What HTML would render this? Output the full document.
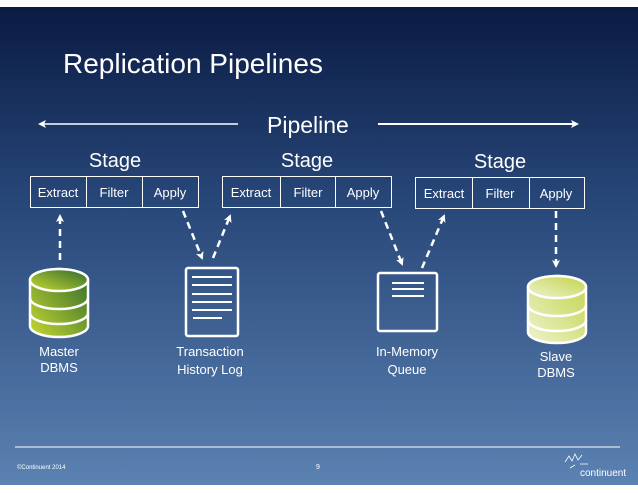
<!DOCTYPE html>
<html><head><meta charset="utf-8"><style>
html,body{margin:0;padding:0;background:#fff}
svg{display:block}
text{font-family:"Liberation Sans",sans-serif;fill:#fff}
</style></head><body>
<svg width="638" height="493" viewBox="0 0 638 493" xmlns="http://www.w3.org/2000/svg">
<defs>
<linearGradient id="bg" x1="0" y1="0" x2="0" y2="1">
<stop offset="0" stop-color="#0a1b43"/>
<stop offset="0.4" stop-color="#274678"/>
<stop offset="1" stop-color="#5b82b2"/>
</linearGradient>
<linearGradient id="g1" x1="0" y1="1" x2="1" y2="0">
<stop offset="0" stop-color="#c8d832"/>
<stop offset="1" stop-color="#2e6a2c"/>
</linearGradient>
<linearGradient id="g2" x1="0" y1="1" x2="1" y2="0">
<stop offset="0" stop-color="#eef3cf"/>
<stop offset="1" stop-color="#c3d34a"/>
</linearGradient>
<marker id="ah" markerWidth="8" markerHeight="8" refX="6" refY="4" orient="auto" markerUnits="userSpaceOnUse">
<path d="M0,0 L8,4 L0,8 L2,4 z" fill="#fff"/>
</marker>
</defs>
<rect x="0" y="7" width="638" height="478" fill="url(#bg)"/>
<text x="63" y="73" font-size="28">Replication Pipelines</text>
<text x="267" y="133" font-size="23">Pipeline</text>
<line x1="238" y1="124" x2="40" y2="124" stroke="#fff" stroke-width="1.5" marker-end="url(#ah)"/>
<line x1="378" y1="124" x2="577" y2="124" stroke="#fff" stroke-width="2" marker-end="url(#ah)"/>
<g font-size="20" text-anchor="middle">
<text x="115" y="167">Stage</text><text x="307" y="167">Stage</text><text x="500" y="168">Stage</text>
</g>
<g fill="none" stroke="#fff" stroke-width="1">
<rect x="30.5" y="176.5" width="168" height="31"/><line x1="86.5" y1="176" x2="86.5" y2="208"/><line x1="142.5" y1="176" x2="142.5" y2="208"/>
<rect x="222.5" y="176.5" width="169" height="31"/><line x1="280.5" y1="176" x2="280.5" y2="208"/><line x1="335.5" y1="176" x2="335.5" y2="208"/>
<rect x="415.5" y="177.5" width="169" height="31"/><line x1="472.5" y1="177" x2="472.5" y2="209"/><line x1="529.5" y1="177" x2="529.5" y2="209"/>
</g>
<g font-size="13" text-anchor="middle">
<text x="58" y="197">Extract</text><text x="114" y="197">Filter</text><text x="170" y="197">Apply</text>
<text x="251" y="197">Extract</text><text x="308" y="197">Filter</text><text x="363" y="197">Apply</text>
<text x="444" y="198">Extract</text><text x="500" y="198">Filter</text><text x="556" y="198">Apply</text>
</g>
<g stroke="#fff" stroke-width="2.5" stroke-dasharray="7,5" fill="none">
<line x1="60" y1="260" x2="60" y2="216" marker-end="url(#ah)"/>
<line x1="183" y1="211" x2="202" y2="258" marker-end="url(#ah)"/>
<line x1="213" y1="258" x2="230" y2="216" marker-end="url(#ah)"/>
<line x1="381" y1="211" x2="402" y2="264" marker-end="url(#ah)"/>
<line x1="422" y1="268" x2="444" y2="216" marker-end="url(#ah)"/>
<line x1="556" y1="211" x2="556" y2="266" marker-end="url(#ah)"/>
</g>
<!-- master db -->
<g stroke="#fff" stroke-width="2.5">
<path d="M30,280 L30,326 A29,11 0 0 0 88,326 L88,280 A29,11 0 0 0 30,280 z" fill="url(#g1)"/>
<ellipse cx="59" cy="280" rx="29" ry="11" fill="url(#g1)"/>
<path d="M30,298 A29,11 0 0 0 88,298 M30,313 A29,11 0 0 0 88,313" fill="none"/>
</g>
<g stroke="#fff" stroke-width="2.5">
<path d="M528,287 L528,332 A29,11 0 0 0 586,332 L586,287 A29,11 0 0 0 528,287 z" fill="url(#g2)"/>
<ellipse cx="557" cy="287" rx="29" ry="11" fill="url(#g2)"/>
<path d="M528,305 A29,11 0 0 0 586,305 M528,320 A29,11 0 0 0 586,320" fill="none"/>
</g>
<!-- log -->
<rect x="186" y="268" width="52" height="68" rx="2" fill="none" stroke="#fff" stroke-width="2.5"/>
<g stroke="#fff" stroke-width="2">
<line x1="192" y1="277" x2="232" y2="277"/><line x1="192" y1="285" x2="232" y2="285"/><line x1="192" y1="294" x2="232" y2="294"/><line x1="192" y1="302" x2="232" y2="302"/><line x1="192" y1="310" x2="232" y2="310"/><line x1="193" y1="318" x2="222" y2="318"/>
</g>
<rect x="378" y="273" width="59" height="58" rx="2" fill="none" stroke="#fff" stroke-width="2.5"/>
<g stroke="#fff" stroke-width="2">
<line x1="392" y1="283" x2="424" y2="283"/><line x1="392" y1="289" x2="424" y2="289"/><line x1="392" y1="296" x2="424" y2="296"/>
</g>
<g font-size="13" text-anchor="middle">
<text x="59" y="356">Master</text><text x="59" y="372">DBMS</text>
<text x="210" y="356">Transaction</text><text x="210" y="374">History Log</text>
<text x="407" y="356">In-Memory</text><text x="407" y="374">Queue</text>
<text x="556" y="361">Slave</text><text x="556" y="377">DBMS</text>
</g>
<line x1="15" y1="447" x2="620" y2="447" stroke="#fff" stroke-width="1"/>
<text x="17" y="469" font-size="6" fill="#dde">©Continuent 2014</text>
<text x="318" y="469" font-size="7" text-anchor="middle">9</text>
<g stroke="#fff" stroke-width="0.8" fill="none">
<path d="M565,462 l4,-6 l3,5 l3,-7 l3,6 l4,-5 M570,468 l5,-3 M580,464 l8,0"/>
</g>
<text x="580" y="476" font-size="10">continuent</text>
</svg>
</body></html>
